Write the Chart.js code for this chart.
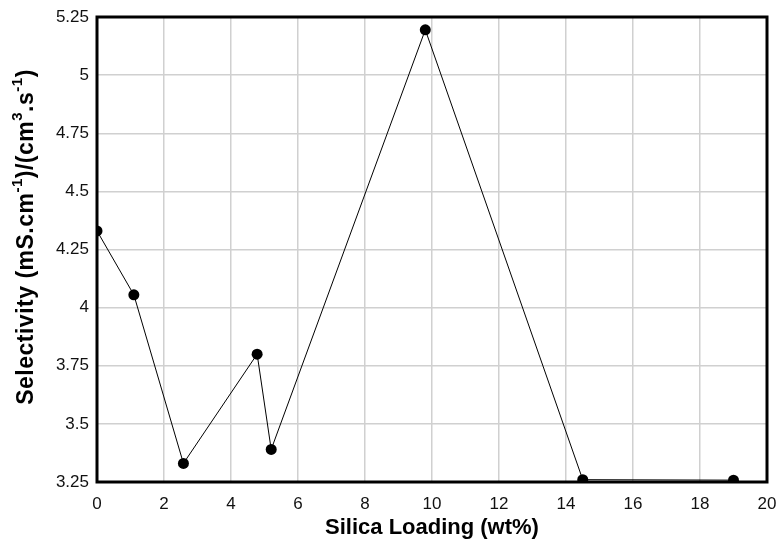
<!DOCTYPE html>
<html>
<head>
<meta charset="utf-8">
<script src="https://cdn.jsdelivr.net/npm/chart.js@4.4.1/dist/chart.umd.min.js"></script>
<style>
  html, body { margin: 0; padding: 0; background: #fff; }
  #wrap { width: 779px; height: 542px; position: relative; }
</style>
</head>
<body>
<div id="wrap"><canvas id="chart"></canvas></div>
<script>
// silica loading (wt%) and selectivity values
const silicaLoading = [0, 1.1, 2.58, 4.78, 5.2, 9.8, 14.5, 19.0];
const selectivity = [4.33, 4.055, 3.33, 3.80, 3.39, 5.195, 3.26, 3.258];

const xTickLabels = ['0', '2', '4', '6', '8', '10', '12', '14', '16', '18', '20'];
const yTickLabels = ['3.25', '3.5', '3.75', '4', '4.25', '4.5', '4.75', '5', '5.25'];

const xTitle = 'Silica Loading (wt%)';
// y title pieces: [text, isSuperscript]
const yTitleParts = [
    ['Selectivity (mS.cm', false], ['-1', true], [')/(cm', false], ['3', true],
    ['.s', false], ['-1', true], [')', false]
];

const FONT = '"Liberation Sans", Arial, sans-serif';

const frameAndTitle = {
    id: 'frameAndTitle',
    beforeDatasetsDraw: function (chart) {
        const ctx = chart.ctx;
        const a = chart.chartArea;
        ctx.save();
        ctx.strokeStyle = '#000';
        ctx.lineWidth = 3;
        ctx.strokeRect(a.left, a.top, a.right - a.left, a.bottom - a.top);
        ctx.restore();
    },
    afterDraw: function (chart) {
        const ctx = chart.ctx;
        const baseFont = 'bold 23px ' + FONT;
        const supFont = 'bold 15px ' + FONT;
        ctx.save();
        ctx.letterSpacing = '0.5px';
        let total = 0;
        yTitleParts.forEach(function (p) {
            ctx.font = p[1] ? supFont : baseFont;
            total += ctx.measureText(p[0]).width;
        });
        ctx.translate(27, 237);
        ctx.rotate(-Math.PI / 2);
        ctx.fillStyle = '#000';
        ctx.textBaseline = 'middle';
        ctx.textAlign = 'left';
        let x = -total / 2;
        yTitleParts.forEach(function (p) {
            ctx.font = p[1] ? supFont : baseFont;
            ctx.fillText(p[0], x, p[1] ? -9 : 0);
            x += ctx.measureText(p[0]).width;
        });
        ctx.restore();
    }
};

new Chart(document.getElementById('chart'), {
    type: 'scatter',
    data: {
        datasets: [{
            data: silicaLoading.map(function (v, i) { return { x: v, y: selectivity[i] }; }),
            showLine: true,
            borderColor: '#000',
            borderWidth: 1,
            pointRadius: 5.5,
            pointBackgroundColor: '#000',
            pointBorderWidth: 0,
            tension: 0
        }]
    },
    options: {
        responsive: true,
        maintainAspectRatio: false,
        animation: false,
        layout: { padding: { top: 17, right: 12, left: 0, bottom: 0 } },
        plugins: {
            legend: { display: false },
            tooltip: { enabled: false }
        },
        scales: {
            x: {
                type: 'linear',
                min: 0,
                max: 20,
                afterFit: function (s) {
                    s.height = 60;
                    s.paddingLeft = 0;
                    s.paddingRight = 0;
                },
                afterBuildTicks: function (s) {
                    s.ticks = xTickLabels.map(function (t) { return { value: Number(t) }; });
                },
                border: { display: false },
                grid: { color: '#d0d0d0', lineWidth: 1.5, drawTicks: false },
                ticks: {
                    padding: 12,
                    color: '#111',
                    font: { family: FONT, size: 17 },
                    callback: function (v, i) { return xTickLabels[i]; }
                },
                title: {
                    display: true,
                    text: xTitle,
                    color: '#000',
                    padding: { top: 0, bottom: 1 },
                    font: { family: FONT, size: 22, weight: 'bold' }
                }
            },
            y: {
                min: 3.25,
                max: 5.25,
                afterFit: function (s) {
                    s.width = 97;
                    s.paddingTop = 0;
                    s.paddingBottom = 0;
                },
                afterBuildTicks: function (s) {
                    s.ticks = yTickLabels.map(function (t) { return { value: Number(t) }; });
                },
                border: { display: false },
                grid: { color: '#d0d0d0', lineWidth: 1.5, drawTicks: false },
                ticks: {
                    padding: 8,
                    color: '#111',
                    font: { family: FONT, size: 17 },
                    callback: function (v, i) { return yTickLabels[i]; }
                }
            }
        }
    },
    plugins: [frameAndTitle]
});
</script>
</body>
</html>
